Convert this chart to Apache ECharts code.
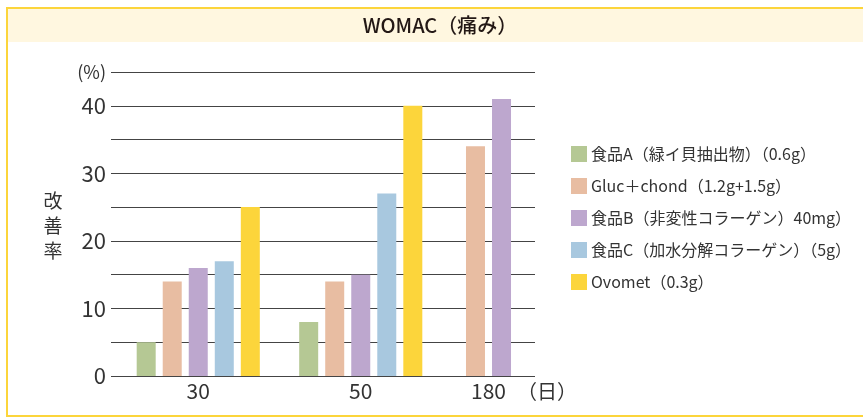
<!DOCTYPE html>
<html><head><meta charset="utf-8">
<script src="https://cdn.jsdelivr.net/npm/echarts@6/dist/echarts.min.js"></script>
<style>html,body{margin:0;padding:0;background:#fff;overflow:hidden}#c{width:863px;height:417px}</style>
</head><body><div id="c"></div>
<script>
const categories = ['30', '50', '180'];
const seriesNames = [
  '食品A（緑イ貝抽出物）（0.6g）',
  'Gluc＋chond（1.2g+1.5g）',
  '食品B（非変性コラーゲン）40mg）',
  '食品C（加水分解コラーゲン）（5g）',
  'Ovomet（0.3g）'
];
const foodA = [5, 8, null];
const gluc = [14, 14, 34];
const foodB = [16, 15, 41];
const foodC = [17, 27, null];
const ovomet = [25, 40, null];
const colors = ['#b5c894', '#e8bda2', '#bda7ce', '#a8c8df', '#fcd53b'];
const yTicks = [0, 10, 20, 30, 40];
const titleText = 'WOMAC（痛み）';
const yName = '改善率';
const xUnit = '（日）';

const values = [foodA, gluc, foodB, foodC, ovomet];
const FONT = '"Noto Sans CJK JP", "Noto Sans", sans-serif';
const chart = echarts.init(document.getElementById('c'));

const series = [];
values.forEach((vals, i) => {
  series.push({
    type: 'bar', name: seriesNames[i], xAxisIndex: 1, yAxisIndex: 1,
    data: vals.slice(0, 2), barWidth: 19, barGap: '37%',
    itemStyle: { color: colors[i] }, silent: true
  });
});
values.forEach((vals, i) => {
  if (vals[2] == null) return;
  series.push({
    type: 'bar', name: seriesNames[i], xAxisIndex: 2, yAxisIndex: 2,
    data: vals.slice(2), barWidth: 19, barGap: '37%',
    itemStyle: { color: colors[i] }, silent: true
  });
});

const hiddenY = { type: 'value', min: 0, max: 45, show: false };
const labelX = {
  type: 'category', axisLine: { show: false }, axisTick: { show: false },
  axisLabel: { color: '#333', fontSize: 21, margin: 5, fontFamily: FONT }
};

chart.setOption({
  animation: false,
  textStyle: { fontFamily: FONT },
  grid: [
    { left: 111, right: 328, top: 72, bottom: 41 },
    { left: 117, width: 325, top: 72, bottom: 41 },
    { left: 448, width: 81, top: 72, bottom: 41 }
  ],
  xAxis: [
    { type: 'value', gridIndex: 0, show: false, min: 0, max: 1 },
    Object.assign({ gridIndex: 1, data: categories.slice(0, 2) }, labelX),
    Object.assign({ gridIndex: 2, data: categories.slice(2) }, labelX)
  ],
  yAxis: [
    {
      type: 'value', gridIndex: 0, min: 0, max: 45, interval: 5,
      axisLine: { show: false }, axisTick: { show: false },
      splitLine: { show: true, lineStyle: { color: '#444', width: 1 } },
      axisLabel: {
        margin: 5, color: '#333', fontSize: 22, fontFamily: FONT,
        formatter: v => yTicks.includes(v) ? String(v) : (v === 45 ? '{p|(%)}' : ''),
        rich: { p: { fontSize: 18, color: '#333', fontFamily: FONT } }
      }
    },
    Object.assign({ gridIndex: 1 }, hiddenY),
    Object.assign({ gridIndex: 2 }, hiddenY)
  ],
  legend: {
    orient: 'vertical', left: 566, top: 141, itemWidth: 16, itemHeight: 16, itemGap: 16,
    data: seriesNames, icon: 'rect', selectedMode: false,
    textStyle: { fontSize: 16, color: '#333', fontFamily: FONT, padding: [0, 0, 0, -1] }
  },
  graphic: [
    { type: 'rect', z: -10, shape: { x: 7, y: 9, width: 856, height: 33 }, style: { fill: '#fff7e0' } },
    { type: 'polyline', z: -5, shape: { points: [[863, 8], [7, 8], [7, 416], [863, 416]] }, style: { fill: null, stroke: '#fcd53b', lineWidth: 2 } },
    { type: 'text', x: 440, y: 25, style: { text: titleText, fill: '#231815', font: '500 20px ' + FONT, textAlign: 'center', textVerticalAlign: 'middle' } },
    { type: 'text', x: 53, y: 226, style: { text: yName.split('').join('\n'), fill: '#333', font: '19px ' + FONT, lineHeight: 25, textAlign: 'center', textVerticalAlign: 'middle' } },
    { type: 'text', x: 547, y: 391, style: { text: xUnit, fill: '#333', font: '20px ' + FONT, textAlign: 'center', textVerticalAlign: 'middle' } }
  ],
  series: series
});
</script></body></html>
